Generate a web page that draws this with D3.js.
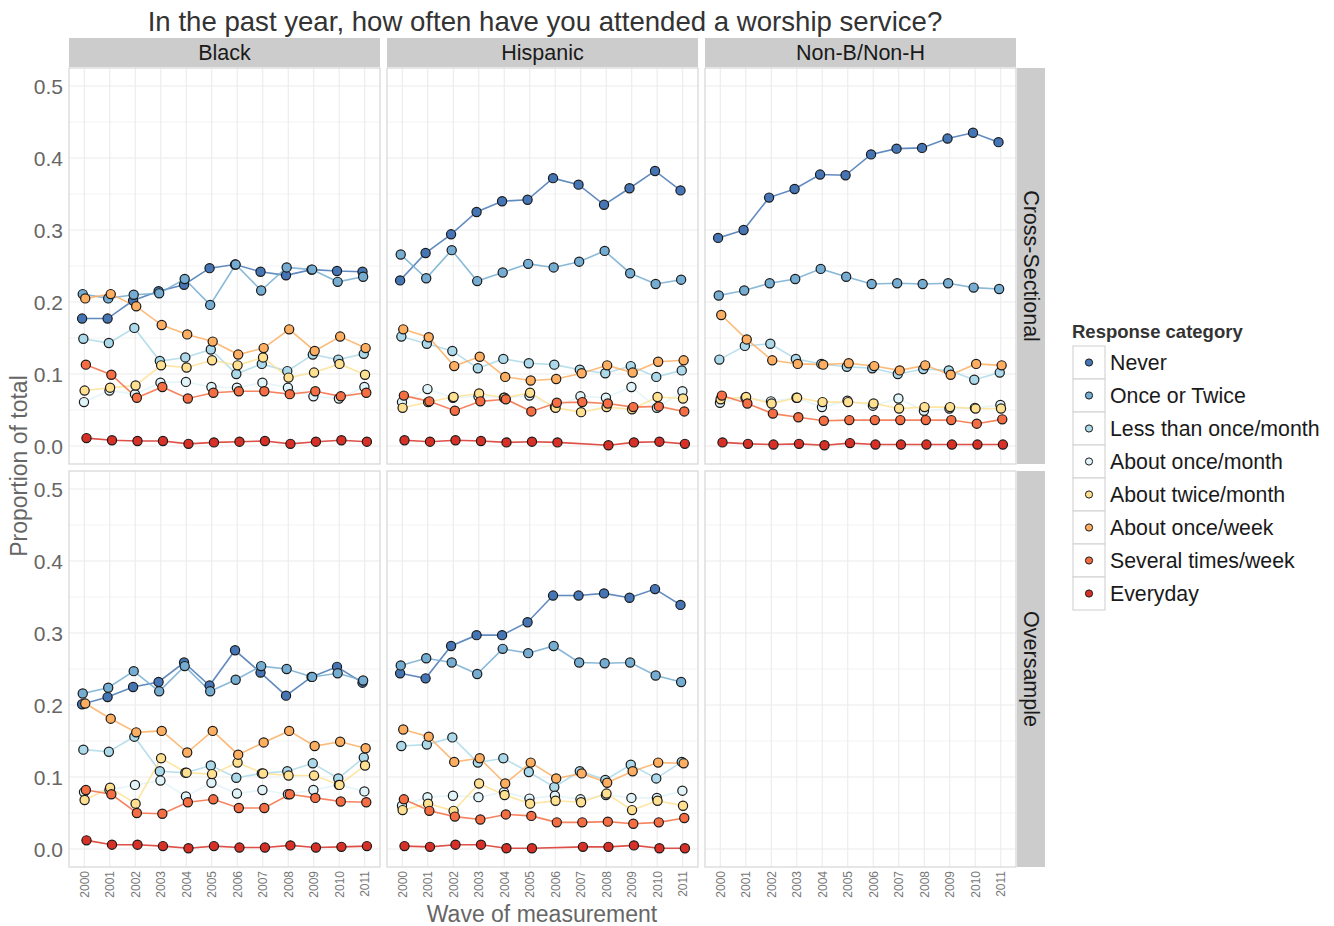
<!DOCTYPE html>
<html>
<head>
<meta charset="utf-8">
<script src="https://cdn.jsdelivr.net/npm/d3@7"></script>
<style>
  body { margin: 0; background: #fff; }
  text { font-family: "Liberation Sans", Arial, Helvetica, sans-serif; }
</style>
</head>
<body>
<svg id="chart" width="1334" height="926"></svg>
<script>
// ---- data -------------------------------------------------------------
const years = ["2000","2001","2002","2003","2004","2005","2006","2007","2008","2009","2010","2011"];
const categories = ["Never","Once or Twice","Less than once/month","About once/month",
                    "About twice/month","About once/week","Several times/week","Everyday"];
const categoryColors = ["#4575b4","#74add1","#abd9e9","#e0f3f8","#fee090","#fdae61","#f46d43","#d73027"];
const groups = ["Black","Hispanic","Non-B/Non-H"];
const samples = ["Cross-Sectional","Oversample"];
const yTicks = [0, 0.1, 0.2, 0.3, 0.4, 0.5];
const yMinorTicks = [0.05, 0.15, 0.25, 0.35, 0.45];

// proportions by category (rows, in category order) and wave (columns)
const blackCross = [
  [0.177,0.177,0.202,0.215,0.224,0.247,0.252,0.242,0.237,0.245,0.243,0.242],
  [0.211,0.205,0.210,0.212,0.232,0.196,0.252,0.216,0.248,0.245,0.228,0.235],
  [0.149,0.143,0.164,0.118,0.123,0.134,0.100,0.114,0.104,0.127,0.120,0.128],
  [0.061,0.077,0.072,0.088,0.089,0.082,0.081,0.088,0.081,0.069,0.066,0.082],
  [0.077,0.081,0.084,0.112,0.109,0.119,0.112,0.123,0.095,0.102,0.114,0.099],
  [0.205,0.211,0.194,0.168,0.155,0.145,0.127,0.136,0.162,0.132,0.152,0.136],
  [0.113,0.099,0.067,0.082,0.066,0.074,0.076,0.076,0.072,0.076,0.069,0.074],
  [0.011,0.008,0.007,0.007,0.003,0.005,0.006,0.007,0.003,0.006,0.008,0.006]
];
const hispanicCross = [
  [0.230,0.268,0.294,0.325,0.340,0.342,0.372,0.363,0.335,0.358,0.382,0.355],
  [0.266,0.233,0.272,0.229,0.241,0.253,0.248,0.256,0.271,0.240,0.225,0.231],
  [0.152,0.142,0.132,0.108,0.121,0.115,0.113,0.106,0.101,0.111,0.096,0.105],
  [0.061,0.079,0.067,0.069,0.067,0.070,0.054,0.069,0.067,0.082,0.053,0.076],
  [0.053,0.061,0.068,0.073,0.067,0.074,0.053,0.047,0.054,0.051,0.068,0.066],
  [0.162,0.151,0.111,0.124,0.096,0.091,0.093,0.101,0.112,0.102,0.117,0.119],
  [0.070,0.062,0.049,0.062,0.065,0.048,0.060,0.061,0.059,0.054,0.055,0.048],
  [0.008,0.006,0.008,0.007,0.005,0.006,0.005,null, 0.001,0.005,0.006,0.003]
];
const otherCross = [
  [0.289,0.300,0.345,0.357,0.377,0.376,0.405,0.413,0.414,0.427,0.435,0.422],
  [0.209,0.216,0.226,0.232,0.246,0.235,0.225,0.226,0.225,0.226,0.220,0.218],
  [0.120,0.139,0.142,0.121,0.114,0.110,0.108,0.100,0.107,0.105,0.092,0.102],
  [0.060,0.067,0.062,0.067,0.054,0.063,0.056,0.066,0.049,0.052,0.053,0.057],
  [0.065,0.068,0.059,0.067,0.061,0.061,0.059,0.052,0.054,0.054,0.052,0.052],
  [0.182,0.148,0.119,0.114,0.113,0.115,0.111,0.105,0.112,0.099,0.114,0.112],
  [0.070,0.059,0.045,0.040,0.035,0.036,0.036,0.036,0.036,0.036,0.031,0.037],
  [0.005,0.003,0.002,0.003,0.001,0.004,0.002,0.002,0.002,0.002,0.002,0.002]
];
const blackOver = [
  [0.201,0.211,0.225,0.232,0.259,0.227,0.276,0.245,0.213,0.239,0.253,0.231],
  [0.216,0.224,0.247,0.219,0.254,0.219,0.235,0.254,0.250,0.239,0.244,0.234],
  [0.138,0.135,0.156,0.108,0.106,0.116,0.099,0.105,0.108,0.119,0.098,0.127],
  [0.079,0.082,0.089,0.095,0.073,0.092,0.077,0.082,0.076,0.082,0.089,0.080],
  [0.068,0.085,0.063,0.126,0.106,0.104,0.120,0.105,0.102,0.102,0.089,0.116],
  [0.202,0.181,0.162,0.164,0.134,0.164,0.131,0.148,0.164,0.143,0.149,0.140],
  [0.082,0.076,0.050,0.049,0.065,0.069,0.057,0.057,0.076,0.071,0.066,0.065],
  [0.012,0.006,0.006,0.004,0.001,0.004,0.002,0.002,0.005,0.002,0.003,0.004]
];
const hispanicOver = [
  [0.244,0.237,0.282,0.297,0.297,0.315,0.352,0.352,0.355,0.349,0.361,0.339],
  [0.255,0.265,0.259,0.243,0.278,0.272,0.282,0.259,0.258,0.259,0.241,0.232],
  [0.143,0.145,0.155,0.120,0.126,0.107,0.086,0.108,0.096,0.117,0.098,0.121],
  [0.060,0.072,0.074,0.072,0.079,0.070,0.074,0.069,0.075,0.071,0.071,0.081],
  [0.054,0.063,0.053,0.091,0.075,0.063,0.067,0.065,0.077,0.054,0.067,0.060],
  [0.166,0.156,0.121,0.126,0.091,0.120,0.098,0.105,0.092,0.108,0.120,0.119],
  [0.069,0.053,0.045,0.041,0.048,0.046,0.037,0.037,0.038,0.035,0.037,0.043],
  [0.004,0.003,0.006,0.006,0.001,0.001,null, 0.003,0.003,0.005,0.001,0.001]
];

// facet layout: [column, row, data]
const panels = [
  { col: 0, row: 0, values: blackCross },
  { col: 1, row: 0, values: hispanicCross },
  { col: 2, row: 0, values: otherCross },
  { col: 0, row: 1, values: blackOver },
  { col: 1, row: 1, values: hispanicOver },
  { col: 2, row: 1, values: null }
];

// ---- geometry ---------------------------------------------------------
const colX = [69, 387, 705];
const rowY = [68, 471];
const panelW = 311, panelH = 396;
const stripH = 29, stripW = 28;

const svg = d3.select("#chart");

const x = d3.scalePoint().domain(years).range([0, panelW]).padding(0.6);
const y = d3.scaleLinear().domain([-0.025, 0.525]).range([panelH, 0]);
const dodge = d3.scalePoint().domain(categories).range([-2.2, 2.2]);
const color = d3.scaleOrdinal().domain(categories).range(categoryColors);

// ---- title ------------------------------------------------------------
svg.append("text")
  .attr("x", 545).attr("y", 31)
  .attr("text-anchor", "middle")
  .attr("font-size", 27.6)
  .attr("fill", "#333")
  .text("In the past year, how often have you attended a worship service?");

// ---- column strips ----------------------------------------------------
groups.forEach((g, i) => {
  const s = svg.append("g").attr("transform", `translate(${colX[i]},${rowY[0] - stripH - 1})`);
  s.append("rect").attr("width", panelW).attr("height", stripH).attr("fill", "#cccccc");
  s.append("text").attr("x", panelW / 2).attr("y", stripH / 2 + 7.5)
    .attr("text-anchor", "middle").attr("font-size", 21.5).attr("fill", "#1a1a1a").text(g);
});

// ---- row strips -------------------------------------------------------
samples.forEach((s, i) => {
  const g = svg.append("g").attr("transform", `translate(${colX[2] + panelW + 1},${rowY[i]})`);
  g.append("rect").attr("width", stripW).attr("height", panelH).attr("fill", "#cccccc");
  g.append("text")
    .attr("transform", `translate(${stripW / 2 - 7.5},${panelH / 2}) rotate(90)`)
    .attr("text-anchor", "middle").attr("font-size", 21.5).attr("fill", "#1a1a1a").text(s);
});

// ---- panels -----------------------------------------------------------
// waves without a value are skipped, so the line joins the neighbouring waves
const line = d3.line()
  .x(d => x(d.year) + dodge(d.cat))
  .y(d => y(d.v));

panels.forEach(p => {
  const g = svg.append("g").attr("transform", `translate(${colX[p.col]},${rowY[p.row]})`);
  g.append("rect").attr("width", panelW).attr("height", panelH).attr("fill", "#fff");

  // grid
  g.selectAll(".ymin").data(yMinorTicks).join("line")
    .attr("x1", 0).attr("x2", panelW).attr("y1", d => y(d)).attr("y2", d => y(d))
    .attr("stroke", "#f3f3f3").attr("stroke-width", 1);
  g.selectAll(".ymaj").data(yTicks).join("line")
    .attr("x1", 0).attr("x2", panelW).attr("y1", d => y(d)).attr("y2", d => y(d))
    .attr("stroke", "#ebebeb").attr("stroke-width", 1.1);
  g.selectAll(".xmaj").data(years).join("line")
    .attr("x1", d => x(d)).attr("x2", d => x(d)).attr("y1", 0).attr("y2", panelH)
    .attr("stroke", "#ebebeb").attr("stroke-width", 1.1);

  if (p.values) {
    const series = categories.map((cat, ci) => ({
      cat,
      pts: years.map((year, yi) => ({ cat, year, v: p.values[ci][yi] }))
                .filter(d => d.v != null)
    }));
    g.selectAll(".series").data(series).join("path")
      .attr("d", d => line(d.pts))
      .attr("fill", "none")
      .attr("stroke", d => color(d.cat))
      .attr("stroke-opacity", 0.85)
      .attr("stroke-width", 1.6);
    series.forEach(s => {
      g.selectAll(null).data(s.pts).join("circle")
        .attr("cx", d => x(d.year) + dodge(d.cat))
        .attr("cy", d => y(d.v))
        .attr("r", 4.6)
        .attr("fill", color(s.cat))
        .attr("stroke", "#1a1a1a")
        .attr("stroke-width", 1.2);
    });
  }

  g.append("rect").attr("width", panelW).attr("height", panelH)
    .attr("fill", "none").attr("stroke", "#d6d6d6").attr("stroke-width", 1.2);

  // y axis labels on the left column
  if (p.col === 0) {
    g.selectAll(".ylab").data(yTicks).join("text")
      .attr("x", -6).attr("y", d => y(d) + 7.5)
      .attr("text-anchor", "end").attr("font-size", 21).attr("fill", "#666")
      .text(d3.format(".1f"));
  }
  // x axis labels on the bottom row
  if (p.row === 1) {
    g.selectAll(".xlab").data(years).join("text")
      .attr("transform", d => `translate(${x(d) + 4.3},${panelH + 4}) rotate(-90)`)
      .attr("text-anchor", "end").attr("font-size", 12).attr("fill", "#777")
      .text(d => d);
  }
});

// ---- axis titles ------------------------------------------------------
svg.append("text")
  .attr("x", 542).attr("y", 922)
  .attr("text-anchor", "middle").attr("font-size", 23).attr("fill", "#666")
  .text("Wave of measurement");
svg.append("text")
  .attr("transform", "translate(27,466) rotate(-90)")
  .attr("text-anchor", "middle").attr("font-size", 23).attr("fill", "#666")
  .text("Proportion of total");

// ---- legend -----------------------------------------------------------
const legend = svg.append("g").attr("transform", "translate(1073,320)");
legend.append("text")
  .attr("x", -1).attr("y", 18)
  .attr("font-size", 18.5).attr("font-weight", "bold").attr("fill", "#333")
  .text("Response category");
const keyH = 33, keyW = 32;
const items = legend.selectAll(".item").data(categories).join("g")
  .attr("transform", (d, i) => `translate(0,${26 + i * keyH})`);
items.append("rect").attr("width", keyW).attr("height", keyH)
  .attr("fill", "#fff").attr("stroke", "#d6d6d6").attr("stroke-width", 1.2);
items.append("circle").attr("cx", keyW / 2).attr("cy", keyH / 2).attr("r", 3.6)
  .attr("fill", d => color(d)).attr("stroke", "#1a1a1a").attr("stroke-width", 1);
items.append("text").attr("x", keyW + 5).attr("y", keyH / 2 + 7.5)
  .attr("font-size", 21.3).attr("fill", "#1a1a1a").text(d => d);
</script>
</body>
</html>
